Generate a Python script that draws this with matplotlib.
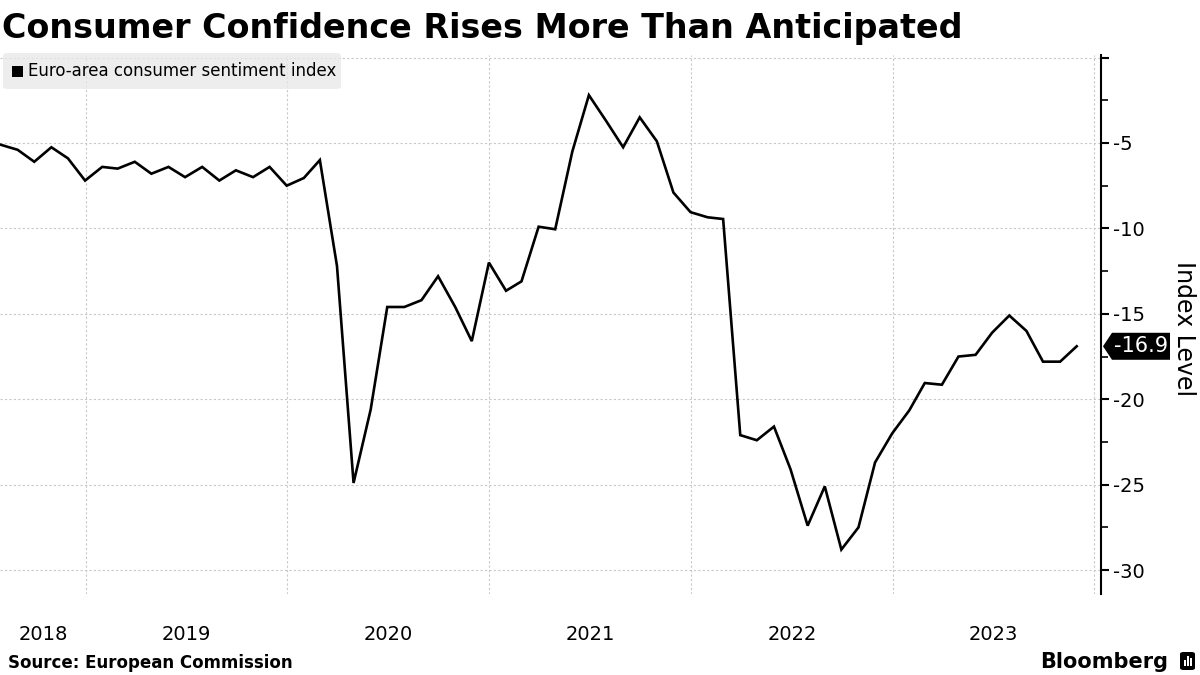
import matplotlib
matplotlib.use('Agg')

import numpy as np
import pandas as pd
import matplotlib.pyplot as plt
import matplotlib.dates as mdates
from matplotlib.patches import FancyBboxPatch, Rectangle, Polygon
from matplotlib.transforms import blended_transform_factory, ScaledTranslation

plt.rcParams['axes.unicode_minus'] = False

# Indice de confianca do consumidor (zona do euro), mensal jul/2018 - nov/2023
inicio = '2018-07-01'
valores = [
    -5.1, -5.4, -6.1, -5.25, -5.9, -7.2,                                  # 2018
    -6.4, -6.5, -6.1, -6.8, -6.4, -7.0, -6.4, -7.2, -6.6, -7.0, -6.4, -7.5,  # 2019
    -7.05, -6.0, -12.2, -24.9, -20.6, -14.6, -14.6, -14.2, -12.8, -14.6, -16.6, -12.0,  # 2020
    -13.65, -13.1, -9.9, -10.05, -5.5, -2.2, -3.7, -5.25, -3.5, -4.9, -7.9, -9.05,    # 2021
    -9.35, -9.45, -22.1, -22.4, -21.6, -24.1, -27.4, -25.1, -28.8, -27.5, -23.7, -22.0,  # 2022
    -20.65, -19.05, -19.15, -17.5, -17.4, -16.1, -15.1, -16.0, -17.8, -17.8, -16.9,   # 2023
]
anos = [2018, 2019, 2020, 2021, 2022, 2023]
serie_nome = 'Euro-area consumer sentiment index'
titulo = 'Consumer Confidence Rises More Than Anticipated'
fonte = 'Source: European Commission'

datas = pd.date_range(inicio, periods=len(valores), freq='MS') + pd.offsets.MonthEnd(0)

W, H = 1200, 675
fig = plt.figure(figsize=(12, 6.75), dpi=100)
ax = fig.add_axes([0, (H - 594) / H, 1101 / W, (594 - 55) / H])

ax.plot(datas, valores, color='black', linewidth=1.9, solid_joinstyle='miter', zorder=3)

x0 = mdates.date2num(pd.Timestamp('2018-07-30'))
x1 = mdates.date2num(pd.Timestamp('2024-01-13'))
ax.set_xlim(x0, x1)
ax.set_ylim(-31.4, 0.15)

# eixo x: grade nas viradas de ano, rotulos no meio do ano
limites = [mdates.date2num(pd.Timestamp(f'{a + 1}-01-01')) for a in anos]
ax.set_xticks(limites)
ax.set_xticklabels([])
meios = []
for a in anos:
    esq = max(x0, mdates.date2num(pd.Timestamp(f'{a}-01-01')))
    dir_ = mdates.date2num(pd.Timestamp(f'{a + 1}-01-01'))
    meios.append((esq + dir_) / 2)
ax.set_xticks(meios, minor=True)
ax.set_xticklabels([str(a) for a in anos], minor=True,
                   fontsize=14, family=['Liberation Sans Narrow', 'DejaVu Sans'])
ax.tick_params(axis='x', which='both', length=0, pad=22)

# eixo y a direita
ax.yaxis.tick_right()
ax.set_yticks([0, -5, -10, -15, -20, -25, -30])
ax.set_yticklabels(['', '-5', '-10', '-15', '-20', '-25', '-30'], fontsize=14)
ax.set_yticks(np.arange(-27.5, 0, 5), minor=True)
ax.tick_params(axis='y', which='major', length=6, width=1.5, pad=3, direction='out')
ax.tick_params(axis='y', which='minor', length=5, width=1.2, direction='out')
fig.text(1184 / W, 1 - 329 / H, 'Index Level', rotation=270, fontsize=17,
         ha='center', va='center')

for lado in ['left', 'top', 'bottom']:
    ax.spines[lado].set_visible(False)
ax.spines['right'].set_linewidth(1.5)

ax.grid(True, which='major', linestyle=(0, (2, 2)), color='#c8c8c8', linewidth=0.8)
ax.set_axisbelow(True)

# rotulo do ultimo valor (caixa preta com ponta na linha do eixo)
ultimo = valores[-1]
ancora = blended_transform_factory(ax.transAxes, ax.transData)
tr_rotulo = fig.dpi_scale_trans + ScaledTranslation(1.0, ultimo, ancora)
fig.patches.append(Polygon([(0.02, 0), (0.11, 0.135), (0.69, 0.135), (0.69, -0.135), (0.11, -0.135)],
                           closed=True, transform=tr_rotulo, fc='black', ec='none', zorder=5))
fig.text(0.40, 0, f'{ultimo:.1f}', transform=tr_rotulo, color='white', fontsize=15,
         ha='center', va='center', zorder=6)

# titulo
fig.text(2 / W, 1 - 38 / H, titulo, fontsize=24, fontweight='bold', va='baseline', ha='left')

# legenda
fig.patches.append(FancyBboxPatch((3 / W, 1 - 89 / H), 338 / W, 36 / H,
                                  boxstyle='round,pad=0,rounding_size=0.004',
                                  transform=fig.transFigure, fc='#e8e8e8', ec='none',
                                  alpha=0.75, zorder=1))
fig.patches.append(Rectangle((12 / W, 1 - 77 / H), 11 / W, 11 / H, transform=fig.transFigure,
                             fc='black', ec='none', zorder=2))
fig.text(28 / W, 1 - 71 / H, serie_nome, fontsize=12, va='center', ha='left', zorder=3)

# fonte e marca
fig.text(8 / W, 1 - 668 / H, fonte, fontsize=12, fontweight='bold', va='baseline', ha='left',
         family=['Liberation Sans Narrow', 'DejaVu Sans'])
fig.text(1168 / W, 1 - 668 / H, 'Bloomberg', fontsize=15, fontweight='bold', va='baseline',
         ha='right', family=['Liberation Sans Narrow', 'DejaVu Sans'])
fig.patches.append(FancyBboxPatch((1180 / W, 1 - 670 / H), 15 / W, 18 / H,
                                  boxstyle='round,pad=0,rounding_size=0.003',
                                  transform=fig.transFigure, fc='black', ec='none'))
for bx, bh in [(1183.5, 6), (1186.5, 10), (1189.5, 8)]:
    fig.patches.append(Rectangle((bx / W, 1 - 666 / H), 2 / W, bh / H,
                                 transform=fig.transFigure, fc='white', ec='none', zorder=3))

fig.savefig('out.png', dpi=100)
